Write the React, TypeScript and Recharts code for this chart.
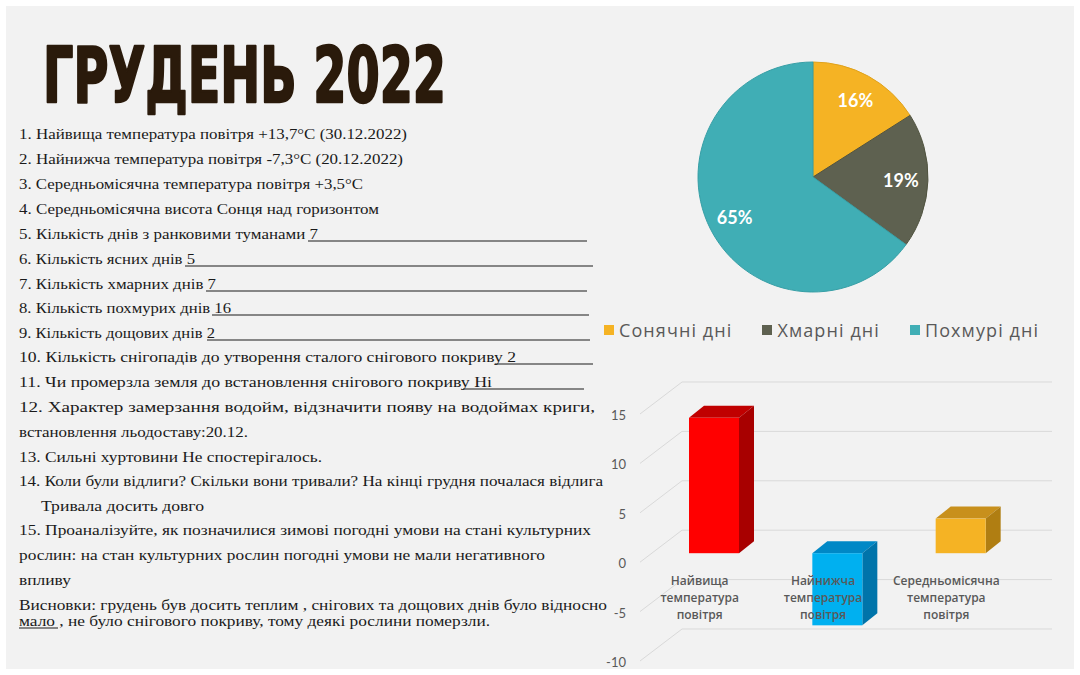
import React from 'react';
import { PieChart, Pie, Cell, Legend, BarChart, Bar, XAxis, YAxis, CartesianGrid } from 'recharts';

// ---------- data ----------
const dayTypes = ['Сонячні дні', 'Хмарні дні', 'Похмурі дні'];
const dayShares = [16, 19, 65];
const dayColors = ['#F5B324', '#5E6150', '#40AEB5'];
const dayStrokes = ['#E0A21C', '#50533F', '#379FA6'];

const tempCategories = [
  'Найвища температура повітря',
  'Найнижча температура повітря',
  'Середньомісячна температура повітря',
];
const tempValues = [13.7, -7.3, 3.5];
const tempFront = ['#FF0000', '#00B0F0', '#F5B324'];
const tempTop = ['#C00000', '#0088C6', '#C8901C'];
const tempSide = ['#A80000', '#0074AA', '#B07E12'];
const yTicks = [-10, -5, 0, 5, 10, 15];

const pieData = dayTypes.map((name, i) => ({ name, value: dayShares[i] }));
const barData = tempCategories.map((name, i) => ({ name, value: tempValues[i] }));

const RAD = Math.PI / 180;

const PieLabel = (p: any) => {
  const r = p.outerRadius * 0.765;
  const x = p.cx + r * Math.cos(-p.midAngle * RAD);
  const y = p.cy + r * Math.sin(-p.midAngle * RAD);
  return (
    <text x={x} y={y} fill="#FFFFFF" textAnchor="middle" dominantBaseline="central"
      style={{ fontFamily: 'Lato', fontWeight: 700, fontSize: 18 }}>
      {`${p.value}%`}
    </text>
  );
};

const PieLegend = (p: any) => {
  const items = [...(p.payload || [])].sort(
    (a: any, b: any) => dayTypes.indexOf(a.value) - dayTypes.indexOf(b.value)
  );
  return (
    <div style={{ display: 'flex', alignItems: 'center', fontFamily: "'Open Sans'", fontSize: 18, letterSpacing: 1.1, color: '#595959' }}>
      {items.map((it: any, i: number) => (
        <div key={i} style={{ display: 'flex', alignItems: 'center', marginRight: 30 }}>
          <div style={{ width: 10, height: 10, background: it.color, marginRight: 5 }} />
          <span>{it.value}</span>
        </div>
      ))}
    </div>
  );
};

const Bar3D = (p: any) => {
  const { x, y, width, height, index } = p;
  const top = Math.min(y, y + height);
  const h = Math.abs(height);
  const d = 15;
  const e = 12;
  return (
    <g>
      <path d={`M${x},${top} L${x + d},${top - e} L${x + width + d},${top - e} L${x + width},${top} Z`} fill={tempTop[index]} />
      <path d={`M${x + width},${top} L${x + width + d},${top - e} L${x + width + d},${top + h - e} L${x + width},${top + h} Z`} fill={tempSide[index]} />
      <rect x={x} y={top} width={width} height={h} fill={tempFront[index]} />
    </g>
  );
};

const gridLine = (p: any) => {
  const { x1, x2, y1 } = p;
  return (
    <path key={p.key ?? `g-${y1}`} d={`M${x1 - 12},${y1 + 9} L${x1 + 30},${y1 - 23} L${x2 + 30},${y1 - 23}`}
      fill="none" stroke="#D9D9D9" strokeWidth={1} />
  );
};

const YTick = (p: any) => (
  <text x={36} y={p.y + 10} textAnchor="end" dominantBaseline="central" fill="#595959"
    style={{ fontFamily: 'Lato', fontSize: 13 }}>
    {p.payload.value}
  </text>
);

const XTick = (p: any) => {
  const words = String(p.payload.value).split(' ');
  return (
    <text x={p.x - 14} y={210} textAnchor="middle" fill="#595959"
      style={{ fontFamily: "'Open Sans'", fontWeight: 600, fontSize: 12 }}>
      {words.map((w, i) => (
        <tspan key={i} x={p.x - 14} y={210 + i * 17} dominantBaseline="central">{w}</tspan>
      ))}
    </text>
  );
};

const NoteLine = ({ y, w, x = 19, children }: any) => (
  <text x={x} y={y} textLength={w} lengthAdjust="spacingAndGlyphs">{children}</text>
);

const U = ({ x1, x2, y }: any) => <line x1={x1} x2={x2} y1={y} y2={y} stroke="#1a1a1a" strokeWidth={1} />;

export default function App() {
  return (
    <div style={{ position: 'absolute', left: 0, top: 0, width: 1080, height: 675, background: '#FFFFFF', overflow: 'hidden' }}>
      <div style={{ position: 'absolute', left: 6, top: 6, width: 1068, height: 663, background: '#F2F2F2' }} />

      <svg style={{ position: 'absolute', left: 0, top: 0 }} width={1080} height={675}>
        <g transform="translate(43,102) scale(0.62,1)">
          <text x={0} y={0} fill="#2A1A0B" stroke="#2A1A0B" strokeWidth={2.5} strokeLinejoin="round"
            style={{ fontFamily: 'DejaVu Sans', fontWeight: 900, fontSize: 77 }}>ГРУДЕНЬ 2022</text>
        </g>
        <g fill="#1A1A1A" style={{ fontFamily: 'Liberation Serif', fontSize: 14 }}>
          <NoteLine y={139} w={388}>1. Найвища температура повітря +13,7°C (30.12.2022)</NoteLine>
          <NoteLine y={164} w={384}>2. Найнижча температура повітря -7,3°C (20.12.2022)</NoteLine>
          <NoteLine y={189} w={344}>3. Середньомісячна температура повітря +3,5°C</NoteLine>
          <NoteLine y={214} w={360}>4. Середньомісячна висота Сонця над горизонтом</NoteLine>
          <NoteLine y={239} w={299}>5. Кількість днів з ранковими туманами 7</NoteLine>
          <U x1={308} x2={587} y={241} />
          <NoteLine y={264} w={176}>6. Кількість ясних днів 5</NoteLine>
          <U x1={185} x2={593} y={266} />
          <NoteLine y={289} w={197}>7. Кількість хмарних днів 7</NoteLine>
          <U x1={206} x2={587} y={291} />
          <NoteLine y={313} w={212}>8. Кількість похмурих днів 16</NoteLine>
          <U x1={212} x2={589} y={315} />
          <NoteLine y={338} w={196}>9. Кількість дощових днів 2</NoteLine>
          <U x1={207} x2={590} y={340} />
          <NoteLine y={362} w={497}>10. Кількість снігопадів до утворення сталого снігового покриву 2</NoteLine>
          <U x1={495} x2={593} y={364} />
          <NoteLine y={387} w={473}>11. Чи промерзла земля до встановлення снігового покриву Ні</NoteLine>
          <U x1={463} x2={584} y={389} />
          <NoteLine y={412} w={576}>12.  Характер  замерзання  водойм,  відзначити  появу  на  водоймах  криги,</NoteLine>
          <NoteLine y={437} w={229}>встановлення льодоставу:20.12.</NoteLine>
          <NoteLine y={462} w={303}>13. Сильні хуртовини  Не спостерігалось.</NoteLine>
          <NoteLine y={486} w={584}>14. Коли були відлиги? Скільки вони тривали? На кінці грудня почалася відлига</NoteLine>
          <NoteLine y={511} x={41} w={163}>Тривала досить довго</NoteLine>
          <NoteLine y={535} w={572}>15. Проаналізуйте, як позначилися зимові погодні умови на стані культурних</NoteLine>
          <NoteLine y={560} w={526}>рослин: на стан культурних рослин погодні умови не мали негативного</NoteLine>
          <NoteLine y={585} w={52}>впливу</NoteLine>
          <NoteLine y={610} w={588}>Висновки: грудень був досить теплим , снігових та дощових днів було  відносно</NoteLine>
          <NoteLine y={626} w={471}>мало , не було снігового покриву, тому деякі рослини померзли.</NoteLine>
          <U x1={19} x2={58} y={628} />
        </g>
      </svg>

      <div style={{ position: 'absolute', left: 590, top: 0 }}>
        <PieChart width={490} height={360}>
          <Pie data={pieData} dataKey="value" nameKey="name" cx={218} cy={172} outerRadius={115}
            startAngle={90} endAngle={-270} label={PieLabel} labelLine={false} isAnimationActive={false}>
            {pieData.map((d, i) => (
              <Cell key={d.name} fill={dayColors[i]} stroke={dayStrokes[i]} strokeWidth={1} />
            ))}
          </Pie>
          <Legend content={PieLegend} wrapperStyle={{ left: 14, top: 318, width: 470, bottom: 'auto' }} />
        </PieChart>
      </div>

      <div style={{ position: 'absolute', left: 590, top: 370 }}>
        <BarChart width={490} height={305} data={barData} margin={{ top: 35, right: 58, left: 22, bottom: 22 }} barSize={50}>
          <CartesianGrid vertical={false} horizontal={gridLine} />
          <YAxis domain={[-10, 15]} ticks={yTicks} width={40} axisLine={false} tickLine={false} tick={YTick} interval={0} />
          <Bar dataKey="value" shape={Bar3D} isAnimationActive={false} />
          <XAxis dataKey="name" height={1} axisLine={false} tickLine={false} tick={XTick} interval={0} />
        </BarChart>
      </div>
    </div>
  );
}
